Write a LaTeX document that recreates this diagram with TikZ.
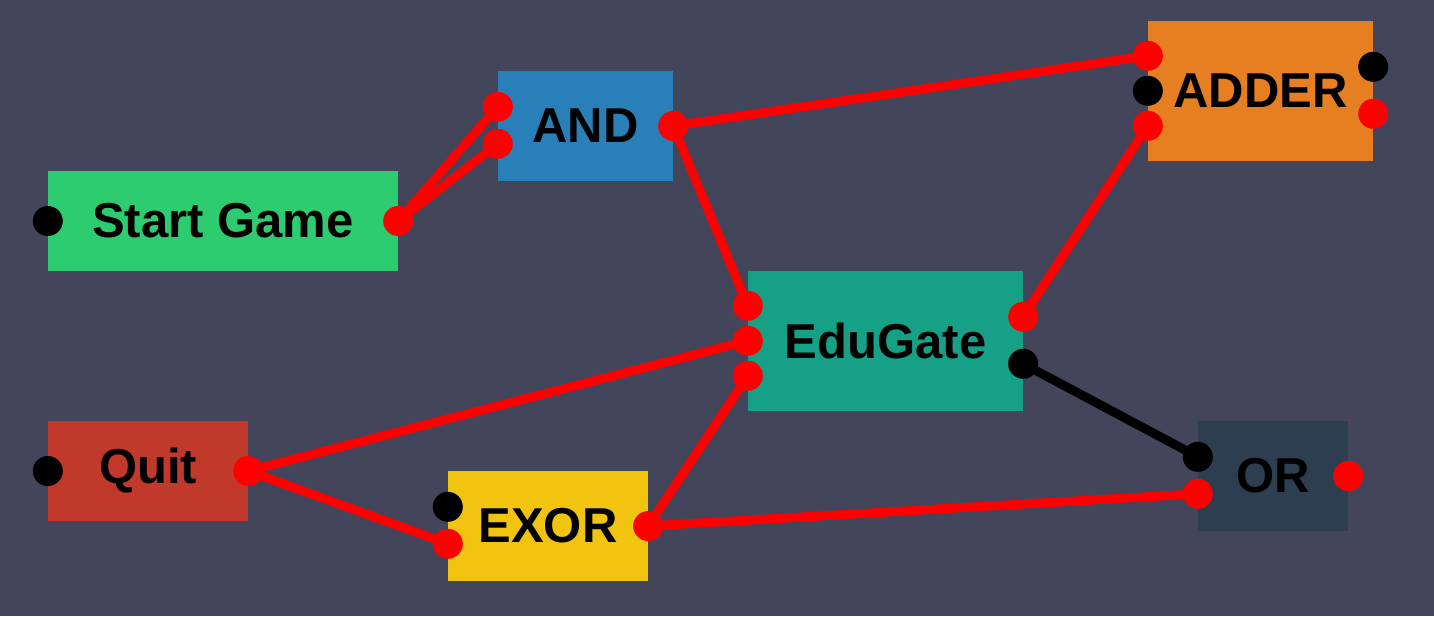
\documentclass[tikz,border=0pt]{standalone}
\usepackage{fontspec}
\setsansfont{Liberation Sans}
\usepackage{tikz}
\usetikzlibrary{positioning, calc}
\usepackage{xcolor}
\definecolor{slate-bg}{HTML}{43455B}
\definecolor{gate-green}{HTML}{2ECC71}
\definecolor{gate-blue}{HTML}{2980B9}
\definecolor{gate-orange}{HTML}{E67E22}
\definecolor{gate-teal}{HTML}{16A085}
\definecolor{gate-red}{HTML}{C0392B}
\definecolor{gate-yellow}{HTML}{F1C40F}
\definecolor{gate-navy}{HTML}{2C3E50}
\definecolor{wire-red}{HTML}{FF0000}

\tikzset{
	gate/.style={rectangle, inner sep=0pt, text=black,
		font=\sffamily\bfseries\fontsize{49}{50}\selectfont},
	wire/.style={line width=9pt, wire-red},
	blackwire/.style={line width=9pt, black}
}

\begin{document}
\begin{tikzpicture}[x=1pt, y=-1pt]
							\fill[slate-bg] (0,0) rectangle (1434,616);
							\useasboundingbox (0,0) rectangle (1434,616);
							% gates
							\node[gate, fill=gate-green, minimum width=350pt, minimum height=100pt] (start) at (223,221) {Start Game};
							\node[gate, fill=gate-blue, minimum width=175pt, minimum height=110pt] (and) at (585.5,126) {AND};
							\node[gate, fill=gate-orange, minimum width=225pt, minimum height=140pt] (adder) at (1260.5,91) {ADDER};
							\node[gate, fill=gate-teal, minimum width=275pt, minimum height=140pt] (edu) at (885.5,341) {EduGate};
							\node[gate, fill=gate-red, minimum width=200pt, minimum height=100pt] (quit) at (148,471) {Quit};
							\node[gate, fill=gate-yellow, minimum width=200pt, minimum height=110pt] (exor) at (548,526) {EXOR};
							\node[gate, fill=gate-navy, minimum width=150pt, minimum height=110pt] (or) at (1273,476) {OR};
							% ports
							\coordinate (start-in) at (start.west);
							\coordinate (start-out) at (start.east);
							\coordinate (and-in1) at ($(and.north west)+(0,36)$);
							\coordinate (and-in2) at ($(and.north west)+(0,73)$);
							\coordinate (and-out) at (and.east);
							\coordinate (adder-in1) at ($(adder.north west)+(0,35)$);
							\coordinate (adder-in2) at ($(adder.north west)+(0,70)$);
							\coordinate (adder-in3) at ($(adder.north west)+(0,105)$);
							\coordinate (adder-out1) at ($(adder.north east)+(0,46)$);
							\coordinate (adder-out2) at ($(adder.north east)+(0,93)$);
							\coordinate (edu-in1) at ($(edu.north west)+(0,35)$);
							\coordinate (edu-in2) at ($(edu.north west)+(0,70)$);
							\coordinate (edu-in3) at ($(edu.north west)+(0,105)$);
							\coordinate (edu-out1) at ($(edu.north east)+(0,46)$);
							\coordinate (edu-out2) at ($(edu.north east)+(0,93)$);
							\coordinate (quit-in) at (quit.west);
							\coordinate (quit-out) at (quit.east);
							\coordinate (exor-in1) at ($(exor.north west)+(0,36)$);
							\coordinate (exor-in2) at ($(exor.north west)+(0,73)$);
							\coordinate (exor-out) at (exor.east);
							\coordinate (or-in1) at ($(or.north west)+(0,36)$);
							\coordinate (or-in2) at ($(or.north west)+(0,73)$);
							\coordinate (or-out) at (or.east);
							% wires
							\draw[wire]
							(start-out) -- (and-in1)
							(start-out) -- (and-in2)
							(and-out) -- (adder-in1)
							(and-out) -- (edu-in1)
							(edu-out1) -- (adder-in3)
							(quit-out) -- (edu-in2)
							(quit-out) -- (exor-in2)
							(exor-out) -- (edu-in3)
							(exor-out) -- (or-in2);
							\draw[blackwire] (edu-out2) -- (or-in1);
							% port dots
							\foreach \p in {start-out, and-in1, and-in2, and-out, adder-in1, adder-in3, adder-out2,
								edu-in1, edu-in2, edu-in3, edu-out1, quit-out, exor-in2, exor-out, or-in2, or-out}
								\fill[wire-red] (\p) circle (15pt);
							\foreach \p in {start-in, adder-in2, adder-out1, edu-out2, quit-in, exor-in1, or-in1}
								\fill[black] (\p) circle (15pt);
						\end{tikzpicture}
\end{document}
